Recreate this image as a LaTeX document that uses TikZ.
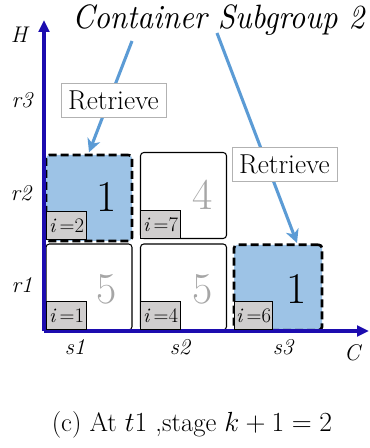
\documentclass[tikz,border=0pt]{standalone}
\usepackage[no-math]{fontspec}
\usetikzlibrary{arrows.meta}
\definecolor{axisblue}{RGB}{28,12,175}
\definecolor{cellblue}{RGB}{157,195,230}
\definecolor{arrowblue}{RGB}{91,155,213}
\definecolor{labgray}{RGB}{208,206,206}
\definecolor{diggray}{RGB}{166,166,166}
\begin{document}
\begin{tikzpicture}[x=0.75pt,y=-0.75pt,
  axis/.style={draw=axisblue,line width=2.4pt,-{Triangle[length=9pt,width=8pt]}},
  cellbox/.style={draw=black,line width=0.8pt,rounded corners=2.5pt,fill=white,
    minimum width=64.5pt,minimum height=64.5pt,inner sep=0pt},
  selbox/.style={cellbox,fill=cellblue,dashed,line width=2pt,dash pattern=on 6pt off 3pt},
  ilab/.style={draw=black,line width=0.8pt,fill=labgray,anchor=south west,
    minimum width=30pt,minimum height=21pt,inner sep=0pt,font=\fontsize{15.5}{15.5}\selectfont},
  bignum/.style={font=\fontsize{33}{33}\selectfont},
  axlab/.style={font=\itshape\fontsize{17}{17}\selectfont},
  retr/.style={draw=black!30,line width=0.6pt,fill=white,minimum width=78.75pt,
    minimum height=25.5pt,inner sep=0pt,font=\fontsize{20.5}{20.5}\selectfont},
  flow/.style={draw=arrowblue,line width=2.3pt,-{Stealth[length=10pt,width=10pt,inset=3pt]}}
]
\useasboundingbox (0,0) rectangle (369,448);
% axes
\coordinate (o) at (44,331);
\coordinate (htip) at (44,20);
\coordinate (ctip) at (369,331);
% cells
\node[selbox] (c12) at (89,198) {};
\node[cellbox] (c22) at (183.5,195.5) {};
\node[cellbox] (c11) at (89,287) {};
\node[cellbox] (c21) at (183.5,287) {};
\node[selbox,minimum width=66pt,minimum height=64pt] (c31) at (278,287.5) {};
\draw[axis] (o) -- (htip);
\draw[axis] (o) -- (ctip);
% digits
\node[bignum] (n12) at (107,197) {1};
\node[bignum,text=diggray] (n22) at (203,195) {4};
\node[bignum,text=diggray] (n11) at (107,289) {5};
\node[bignum,text=diggray] (n21) at (203,289) {5};
\node[bignum] (n31) at (297,289) {1};
% i labels
\node[ilab] (l12) at (46,240) {\textit{i}\,=2};
\node[ilab] (l22) at (140,239) {\textit{i}\,=7};
\node[ilab] (l11) at (46,330) {\textit{i}\,=1};
\node[ilab] (l21) at (140,330) {\textit{i}\,=4};
\node[ilab,minimum width=28.5pt] (l31) at (234,330) {\textit{i}\,=6};
% axis labels
\node[axlab] (H) at (19,35) {H};
\node[axlab] (r3) at (22,100) {r3};
\node[axlab] (r2) at (21,193) {r2};
\node[axlab] (r1) at (22,285) {r1};
\node[axlab] (s1) at (75,347) {s1};
\node[axlab] (s2) at (180,347) {s2};
\node[axlab] (s3) at (283,347) {s3};
\node[axlab] (C) at (352,353) {C};
% title
\node[anchor=base west,inner sep=0pt] (title) at (72,28.5) {\scalebox{1}[1.1]{\resizebox{219pt}{!}{\itshape Container Subgroup 2}}};
% arrows
\coordinate (a1s) at (132,41);
\coordinate (a2s) at (217,33);
\coordinate (a2e) at (297,243);
\draw[flow] (a1s) -- ([xshift=0pt,yshift=1pt]c12.north);
\draw[flow] (a2s) -- (a2e);
\node[retr] (rt1) at (113.5,100) {Retrieve};
\node[retr] (rt2) at (284.5,164.5) {Retrieve};
% caption
\node[font=\fontsize{20}{20}\selectfont] (cap) at (192,425) {(c) At $t1$ ,stage $k+1=2$};
\end{tikzpicture}
\end{document}
